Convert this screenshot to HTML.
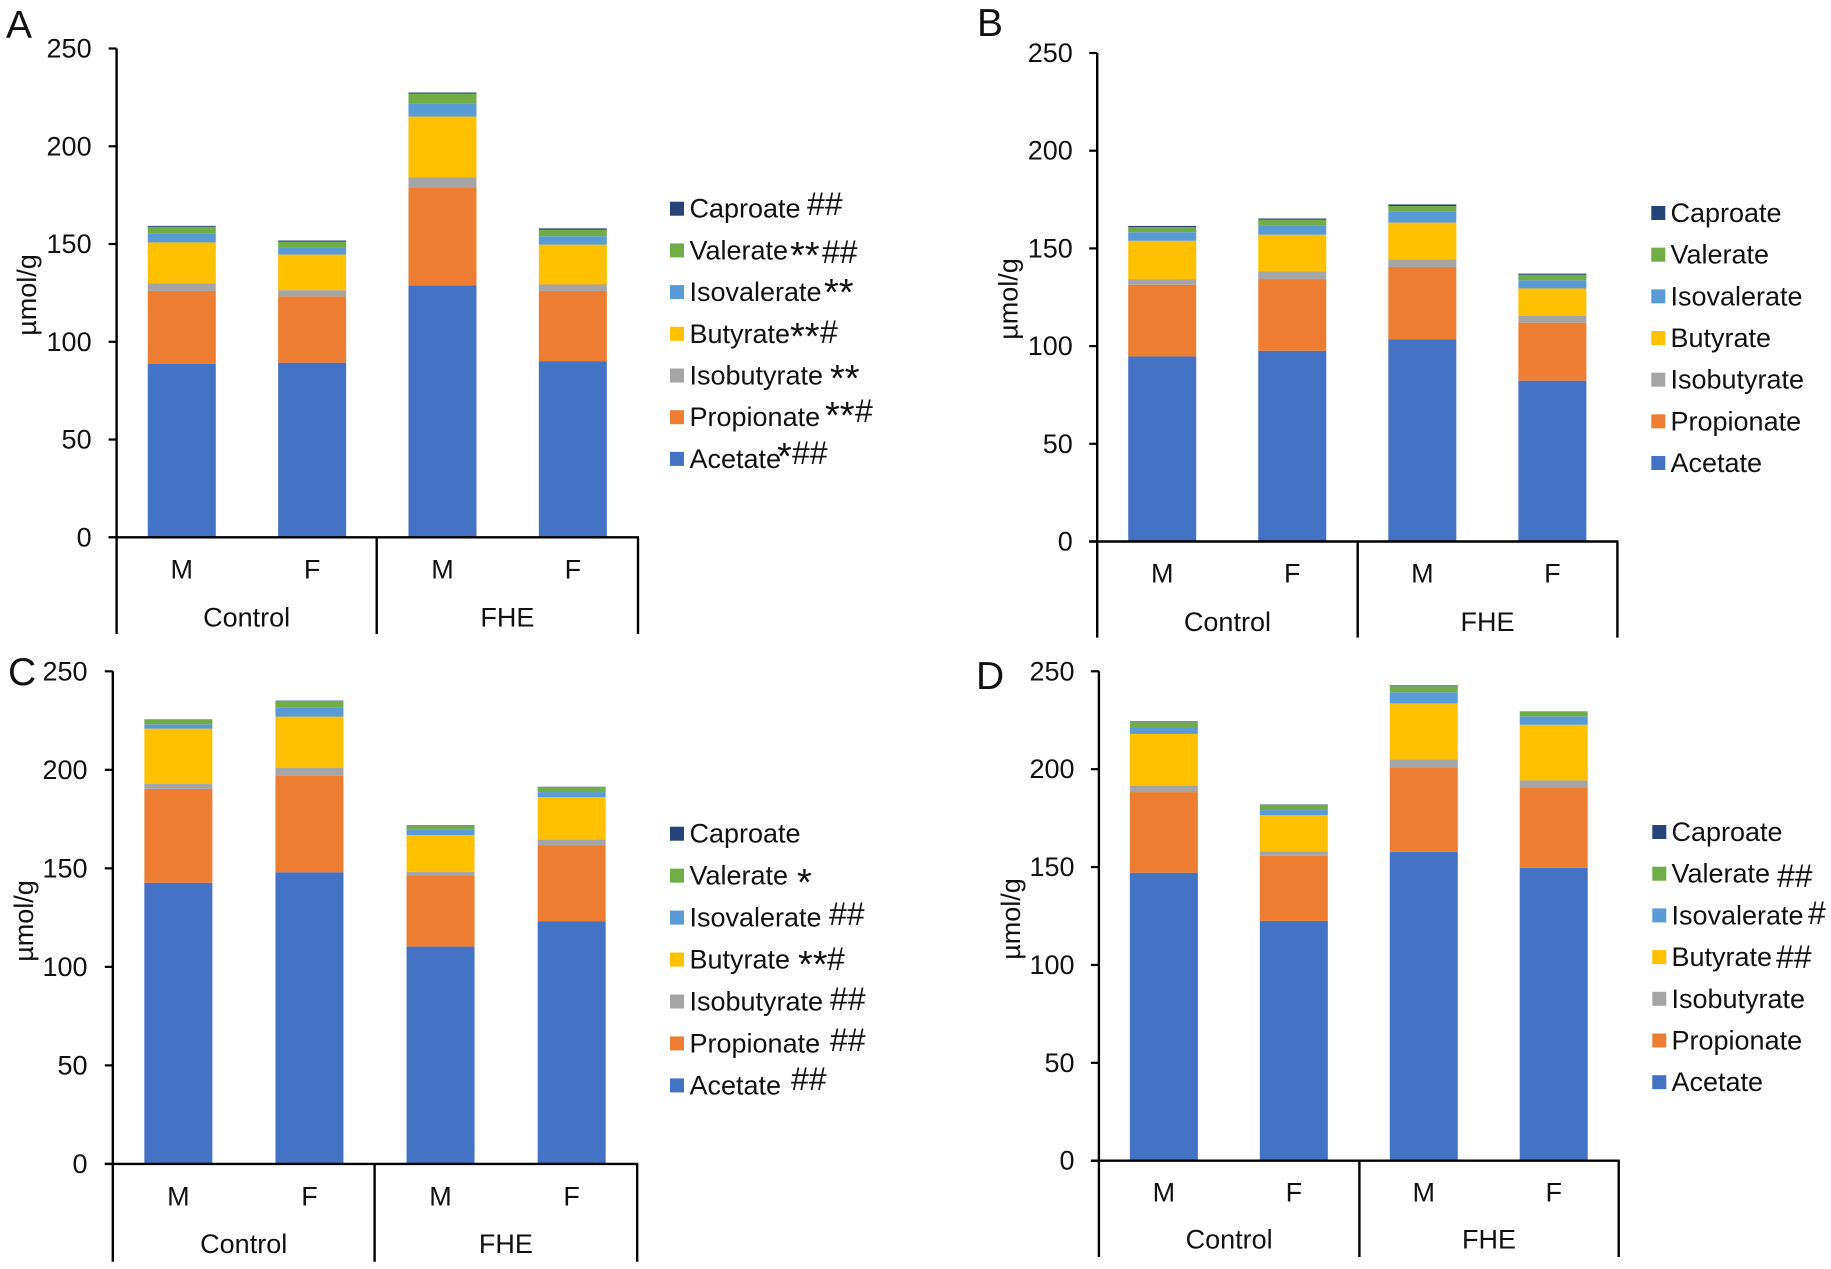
<!DOCTYPE html>
<html lang="en">
<head>
<meta charset="utf-8">
<title>Short-chain fatty acids by group</title>
<style>
html,body{margin:0;padding:0;background:#fff;width:1831px;height:1269px;overflow:hidden}
svg{display:block}
text{font-family:"Liberation Sans",Arial,sans-serif;fill:#111}
.sfx{font-size:32px}
.star{font-size:38px}
</style>
</head>
<body>
<svg id="figure" xmlns="http://www.w3.org/2000/svg" width="1831" height="1269" viewBox="0 0 1831 1269">
<rect width="1831" height="1269" fill="#fff"/>
<g id="panels"></g>
<g>
  <text class="sfx" x="807" y="215">##</text>
  <text class="star" x="790" y="268">**</text>
  <text class="sfx" x="822" y="263">##</text>
  <text class="star" x="824" y="305">**</text>
  <text class="star" x="790" y="349">**</text>
  <text class="sfx" x="820" y="343">#</text>
  <text class="star" x="830" y="391">**</text>
  <text class="star" x="825" y="428">**</text>
  <text class="sfx" x="855" y="422">#</text>
  <text class="star" x="777" y="469">*</text>
  <text class="sfx" x="792" y="464">##</text>
</g>
<g>
  <text class="star" x="797" y="895">*</text>
  <text class="sfx" x="829" y="925">##</text>
  <text class="star" x="798" y="977">**</text>
  <text class="sfx" x="827" y="970">#</text>
  <text class="sfx" x="830" y="1010">##</text>
  <text class="sfx" x="830" y="1051">##</text>
  <text class="sfx" x="791" y="1090">##</text>
</g>
<g>
  <text class="sfx" x="1777" y="887">##</text>
  <text class="sfx" x="1808" y="924">#</text>
  <text class="sfx" x="1776" y="968">##</text>
</g>
</svg>
<script>
const sexLabels = ['M', 'F', 'M', 'F'];
const groupLabels = ['Control', 'FHE'];
const yTicks = [0, 50, 100, 150, 200, 250];
const seriesNames = ['Acetate', 'Propionate', 'Isobutyrate', 'Butyrate', 'Isovalerate', 'Valerate', 'Caproate'];
const seriesColors = ['#4472C4', '#ED7D31', '#A5A5A5', '#FFC000', '#5B9BD5', '#70AD47', '#264478'];

const aAcetate = [88.8, 89.3, 128.9, 90.1];
const aPropionate = [37.2, 33.9, 50.1, 35.9];
const aIsobutyrate = [3.8, 3.2, 5.0, 3.3];
const aButyrate = [21.0, 18.2, 31.2, 20.4];
const aIsovalerate = [4.4, 3.6, 6.6, 4.3];
const aValerate = [3.6, 3.0, 5.1, 3.3];
const aCaproate = [0.5, 0.6, 0.6, 0.7];

const bAcetate = [94.7, 97.6, 103.4, 82.3];
const bPropionate = [36.7, 36.7, 37.1, 29.7];
const bIsobutyrate = [2.9, 3.9, 3.8, 3.4];
const bButyrate = [19.6, 18.8, 18.9, 14.1];
const bIsovalerate = [4.4, 4.9, 5.5, 4.2];
const bValerate = [2.6, 2.8, 3.0, 2.8];
const bCaproate = [0.6, 0.6, 0.8, 0.6];

const cAcetate = [142.7, 148.0, 110.3, 123.2];
const cPropionate = [47.6, 48.9, 36.1, 38.4];
const cIsobutyrate = [2.5, 4.2, 1.8, 3.1];
const cButyrate = [28.1, 25.9, 18.7, 21.4];
const cIsovalerate = [2.2, 4.7, 2.7, 2.6];
const cValerate = [2.3, 3.2, 1.8, 2.5];
const cCaproate = [0.2, 0.2, 0.4, 0.2];

const dAcetate = [147.1, 122.5, 157.8, 149.6];
const dPropionate = [41.2, 33.2, 42.8, 40.8];
const dIsobutyrate = [3.3, 2.3, 4.5, 3.9];
const dButyrate = [26.4, 18.6, 28.5, 28.4];
const dIsovalerate = [3.3, 2.5, 5.7, 4.3];
const dValerate = [2.7, 2.7, 3.1, 2.3];
const dCaproate = [0.4, 0.2, 0.4, 0.2];

const panelLayouts = [
  {id:'a', letter:'A', lx:6, ly:38, x0:116.6, x1:638, xm:376.7, yTop:48.5, yZero:537.3, yEnd:634, titleX:36, titleY:295, tickGap:25, catDy:41, grpDy:89,
   legSwatch:670, legText:689.5, legTop:208.7, legStep:41.7,
   series:[aAcetate, aPropionate, aIsobutyrate, aButyrate, aIsovalerate, aValerate, aCaproate]},
  {id:'b', letter:'B', lx:977, ly:36, x0:1097.2, x1:1617.4, xm:1357.7, yTop:53, yZero:541.5, yEnd:637.6, titleX:1017.5, titleY:299, tickGap:24.4, catDy:41, grpDy:89.5,
   legSwatch:1651.3, legText:1670.5, legTop:213, legStep:41.67,
   series:[bAcetate, bPropionate, bIsobutyrate, bButyrate, bIsovalerate, bValerate, bCaproate]},
  {id:'c', letter:'C', lx:8, ly:685, x0:112.8, x1:637.2, xm:374.6, yTop:671.3, yZero:1163.9, yEnd:1261.7, titleX:33, titleY:921, tickGap:25.3, catDy:41.7, grpDy:89,
   legSwatch:670, legText:689.5, legTop:833.7, legStep:41.95,
   series:[cAcetate, cPropionate, cIsobutyrate, cButyrate, cIsovalerate, cValerate, cCaproate]},
  {id:'d', letter:'D', lx:976, ly:689, x0:1098.9, x1:1618.7, xm:1359.4, yTop:671.3, yZero:1160.7, yEnd:1257, titleX:1020, titleY:919, tickGap:24.4, catDy:41, grpDy:88,
   legSwatch:1652.3, legText:1671.5, legTop:832, legStep:41.7,
   series:[dAcetate, dPropionate, dIsobutyrate, dButyrate, dIsovalerate, dValerate, dCaproate]}
];

const SVGNS = 'http://www.w3.org/2000/svg';
const root = document.getElementById('panels');
const FONT = 27;
const BAR_W = 68;
const INK = '#000';

function make(tag, parent, attrs, content) {
  const node = document.createElementNS(SVGNS, tag);
  Object.keys(attrs).forEach(function (k) { node.setAttribute(k, attrs[k]); });
  if (content !== undefined) node.textContent = content;
  parent.appendChild(node);
  return node;
}

panelLayouts.forEach(function (p) {
  const g = make('g', root, {});
  
  

  const yScale = function (v) { return p.yZero - (v / 250) * (p.yZero - p.yTop); };
  const band = (p.x1 - p.x0) / sexLabels.length;
  const xCenter = function (i) { return p.x0 + band * (i + 0.5); };

  const letter = make('text', g, {x: p.lx, y: p.ly, 'font-size': 39}, p.letter);
  
  

  sexLabels.forEach(function (sex, i) {
    let cumulative = 0;
    p.series.forEach(function (values, s) {
      const top = yScale(cumulative + values[i]);
      const bottom = yScale(cumulative);
      const bar = make('rect', g, {x: xCenter(i) - BAR_W / 2, y: top, width: BAR_W, height: bottom - top, fill: seriesColors[s]});
      
      
      cumulative += values[i];
    });
    const cat = make('text', g, {x: xCenter(i), y: p.yZero + p.catDy, 'font-size': FONT, 'text-anchor': 'middle'}, sex);
    
    
  });

  groupLabels.forEach(function (label, i) {
    const left = i === 0 ? p.x0 : p.xm;
    const right = i === 0 ? p.xm : p.x1;
    const grp = make('text', g, {x: (left + right) / 2, y: p.yZero + p.grpDy, 'font-size': FONT, 'text-anchor': 'middle'}, label);
    
    
  });

  const yAxis = make('line', g, {x1: p.x0, x2: p.x0, y1: p.yTop, y2: p.yEnd, stroke: INK, 'stroke-width': 2.4});
  
  

  const xAxis = make('line', g, {x1: p.x0 - 8, x2: p.x1 + 1, y1: p.yZero, y2: p.yZero, stroke: INK, 'stroke-width': 2.4});
  
  

  [p.xm, p.x1].forEach(function (x, i) {
    const divider = make('line', g, {x1: x, x2: x, y1: p.yZero, y2: p.yEnd, stroke: INK, 'stroke-width': 2.4});
    
    
  });

  yTicks.forEach(function (t) {
    const y = yScale(t);
    const tick = make('line', g, {x1: p.x0 - 8, x2: p.x0, y1: y, y2: y, stroke: INK, 'stroke-width': 2.2});
    
    
    const tl = make('text', g, {x: p.x0 - p.tickGap, y: y + 9, 'font-size': FONT, 'text-anchor': 'end'}, String(t));
    
    
  });

  const title = make('text', g, {x: 0, y: 0, 'font-size': FONT, 'text-anchor': 'middle', transform: 'translate(' + p.titleX + ' ' + p.titleY + ') rotate(-90)'}, 'µmol/g');
  
  

  seriesNames.slice().reverse().forEach(function (name, k) {
    const colour = seriesColors[seriesNames.length - 1 - k];
    const cy = p.legTop + k * p.legStep;
    const entry = make('g', g, {});
    
    
    const sw = make('rect', entry, {x: p.legSwatch, y: cy - 7, width: 14, height: 14, fill: colour});
    
    
    const lt = make('text', entry, {x: p.legText, y: cy + 9, 'font-size': FONT}, name);
    
    
  });
});
</script>
</body>
</html>
